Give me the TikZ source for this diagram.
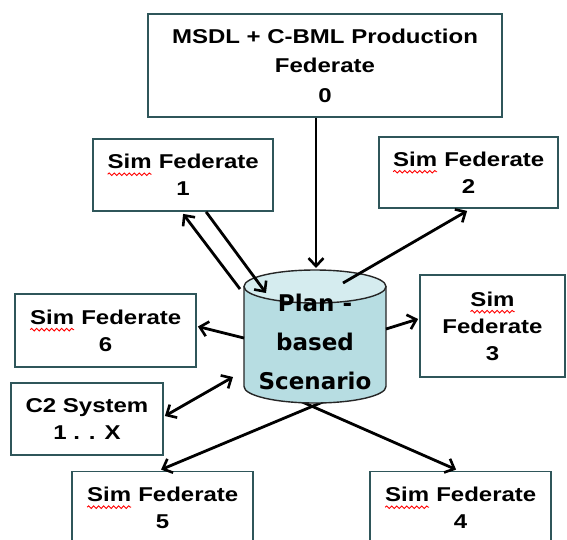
\documentclass[tikz,border=0pt]{standalone}
\usepackage{fontspec}
\setmainfont{Liberation Sans}[FakeStretch=1.2]
\newfontfamily\cylfont{DejaVu Sans}
\usetikzlibrary{arrows.meta,calc,decorations.pathmorphing}
\definecolor{boxline}{RGB}{47,86,90}
\definecolor{cylbody}{RGB}{183,221,226}
\definecolor{cyltop}{RGB}{213,236,239}
\newcommand\redsim{\tikz[baseline=(w.base),x=1pt,y=1pt]{\node[draw=none,fill=none,inner sep=0pt,outer sep=0pt,minimum width=0pt,minimum height=0pt,align=left] (w) {Sim};
  \draw[red,line width=0.9pt,decorate,decoration={snake,amplitude=1.3pt,segment length=5pt}] ([yshift=-5.5pt]w.base west) -- ([yshift=-5.5pt]w.base east);}}
\tikzset{
  fbox/.style={draw=boxline, line width=1.8pt, fill=white, align=center,
    font=\fontsize{20}{27}\selectfont\bfseries, inner sep=0pt},
  tip/.style={Straight Barb[length=8pt,width=15pt,line width=2.6pt]},
  arr/.style={line width=2.8pt, -{Straight Barb[length=8pt,width=15pt,line width=2.6pt]}},
  darr/.style={line width=2.8pt, {Straight Barb[length=8pt,width=15pt,line width=2.6pt]}-{Straight Barb[length=8pt,width=15pt,line width=2.6pt]}},
  cylout/.style={draw=black!85, line width=1.4pt}
}
\begin{document}
\begin{tikzpicture}[x=1pt,y=-1pt]
\clip (0,0) rectangle (567,539);
\fill[white] (0,0) rectangle (567,539);
% boxes
\node[fbox, minimum width=354, minimum height=103, font=\fontsize{20}{29.5}\selectfont\bfseries] (top) at (325,65.5) {MSDL + C-BML Production\\Federate\\0};
\node[fbox, minimum width=180, minimum height=72] (s1) at (183,175) {\redsim{} Federate\\1};
\node[fbox, minimum width=179, minimum height=71] (s2) at (468.5,172.5) {\redsim{} Federate\\2};
\node[fbox, minimum width=145, minimum height=102] (s3) at (492.5,326) {\redsim\\Federate\\3};
\node[fbox, minimum width=181, minimum height=73] (s6) at (105.5,330.5) {\redsim{} Federate\\6};
\node[fbox, minimum width=152, minimum height=72] (c2) at (87,419) {C2 System\\1 . . X};
\node[fbox, minimum width=181, minimum height=73] (s5) at (162.5,508) {\redsim{} Federate\\5};
\node[fbox, minimum width=181, minimum height=73] (s4) at (460.5,508) {\redsim{} Federate\\4};
% endpoints on the cylinder
\coordinate (p5) at (349,391);
\coordinate (p4) at (275,390);
\coordinate (p0) at (316,268);
\coordinate (p1a) at (240,289);
\coordinate (p1b) at (266,293);
\coordinate (p2) at (343,283);
\coordinate (p3) at (386,329);
\coordinate (p6) at (244,338);
\coordinate (pc) at (233,377);
% arrows behind the cylinder
\draw[arr] (p5) -- ($(s5.north west)+(90,-1)$);
\draw[arr] (p4) -- ($(s4.north west)+(87,-1)$);
% cylinder
\path[fill=cylbody] (244,286.5) -- (244,386.5)
  arc[start angle=180, end angle=360, x radius=71pt, y radius=16.5pt] -- (386,286.5) -- cycle;
\draw[cylout] (244,286.5) -- (244,386.5) arc[start angle=180, end angle=360, x radius=71pt, y radius=16.5pt] -- (386,286.5);
\path[fill=cyltop, cylout] (315,286.5) ellipse[x radius=71pt, y radius=16.5pt];
\node[font=\cylfont\fontsize{23}{39}\selectfont\bfseries, align=center, inner sep=0pt] (cyl) at (315,342) {Plan -\\based\\Scenario};
% arrows in front
\draw[arr] (top.south -| p0) -- (p0);
\draw[arr] (p1a) -- ($(s1.south west)+(91,2)$);
\draw[arr] ($(s1.south west)+(114,0)$) -- (p1b);
\draw[arr] (p2) -- ($(s2.south west)+(89,2)$);
\draw[arr] (p3) -- ($(s3.west)+(-1,-7)$);
\draw[arr] (p6) -- ($(s6.east)+(1,-4)$);
\draw[darr] ($(c2.east)+(1,-3)$) -- (pc);
\end{tikzpicture}
\end{document}
